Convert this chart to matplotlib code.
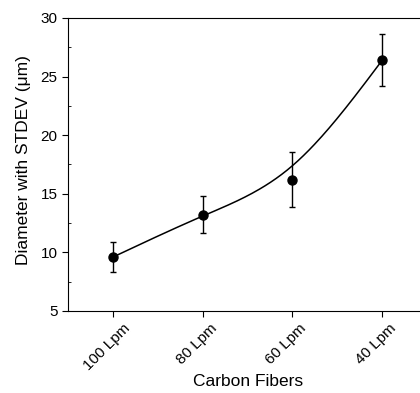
import numpy as np
import matplotlib
matplotlib.use('Agg')
import matplotlib.pyplot as plt
import matplotlib.transforms as mtransforms

plt.rcParams['font.family'] = ['Liberation Sans', 'DejaVu Sans']

categories = ['100 Lpm', '80 Lpm', '60 Lpm', '40 Lpm']
diameter = [9.6, 13.2, 16.2, 26.4]
stdev = [1.27, 1.58, 2.33, 2.24]


def cubic_bspline(px, py, n=50):
    # uniform cubic B-spline, data as control points, reflected end points
    px = np.asarray(px, float)
    py = np.asarray(py, float)
    qx = np.concatenate([[2 * px[0] - px[1]], px, [2 * px[-1] - px[-2]]])
    qy = np.concatenate([[2 * py[0] - py[1]], py, [2 * py[-1] - py[-2]]])
    t = np.linspace(0, 1, n)
    b0 = (1 - t) ** 3 / 6
    b1 = (3 * t ** 3 - 6 * t ** 2 + 4) / 6
    b2 = (-3 * t ** 3 + 3 * t ** 2 + 3 * t + 1) / 6
    b3 = t ** 3 / 6
    xs, ys = [], []
    for i in range(len(qx) - 3):
        xs.append(b0 * qx[i] + b1 * qx[i + 1] + b2 * qx[i + 2] + b3 * qx[i + 3])
        ys.append(b0 * qy[i] + b1 * qy[i + 1] + b2 * qy[i + 2] + b3 * qy[i + 3])
    return np.concatenate(xs), np.concatenate(ys)


x = np.arange(len(categories))
fig = plt.figure(figsize=(4.2, 3.93), dpi=100)
ax = fig.add_axes([0.162, 0.2087, 0.855, 0.7455])

cx, cy = cubic_bspline(x, diameter)
ax.plot(cx, cy, color='black', lw=1.1)
ax.errorbar(x, diameter, yerr=stdev, fmt='o', color='black', ms=6.5,
            ecolor='black', elinewidth=1, capsize=2.5, capthick=1)

ax.set_xlim(-0.5, 3.5)
ax.set_ylim(5, 30)
ax.set_yticks([5, 10, 15, 20, 25, 30])
ax.set_yticks(np.arange(7.5, 30, 5), minor=True)
ax.set_xticks(x)
ax.set_xticklabels(categories, rotation=45, ha='center', va='top')
ax.tick_params(axis='y', which='major', direction='out', length=4, labelsize=11)
ax.tick_params(axis='y', which='minor', direction='in', length=2.5)
ax.tick_params(axis='x', direction='out', length=4, labelsize=11)
ax.spines['right'].set_visible(False)

ax.set_xlabel('Carbon Fibers', fontsize=12.5)
ax.set_ylabel('Diameter with STDEV (\u03bcm)', fontsize=12.5)
ax.xaxis.set_label_coords(0.5, -0.215)
ax.yaxis.set_label_coords(-0.103, 0.515)

# nudge the rotated tick labels a little to the left, like the original
fig.canvas.draw()
shift = mtransforms.ScaledTranslation(-0.06, 0, fig.dpi_scale_trans)
for tick in ax.xaxis.get_major_ticks():
    tick.label1.set_transform(tick.label1.get_transform() + shift)

fig.savefig('out.png', dpi=100)
